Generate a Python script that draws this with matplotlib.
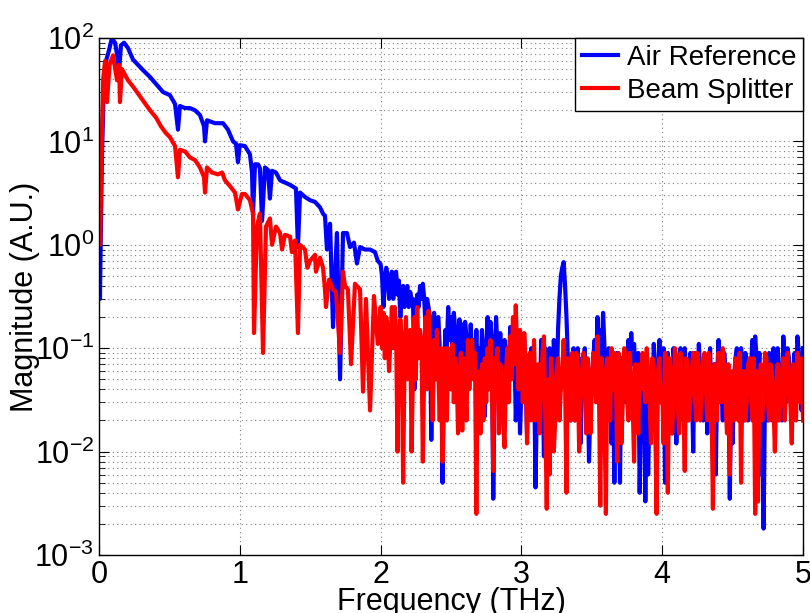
import matplotlib
matplotlib.use("Agg")
import matplotlib.pyplot as plt
import numpy as np

plt.rcParams['font.family'] = ['Liberation Sans', 'DejaVu Sans']
plt.rcParams['mathtext.fontset'] = 'custom'
plt.rcParams['mathtext.rm'] = 'Liberation Sans'

# Low frequency part (0 - 2 THz)
air_f_low = [0.0, 0.007, 0.02, 0.035, 0.05, 0.07, 0.092, 0.114, 0.128, 0.142,
             0.156, 0.178, 0.206, 0.241, 0.277, 0.312, 0.362, 0.412, 0.455, 0.504,
             0.54, 0.561, 0.575, 0.611, 0.646, 0.682, 0.717, 0.746, 0.753, 0.767,
             0.824, 0.881, 0.916, 0.952, 0.973, 0.987, 1.0, 1.037, 1.072, 1.087,
             1.094, 1.108, 1.129, 1.143, 1.158, 1.179, 1.2, 1.214, 1.229, 1.257,
             1.286, 1.321, 1.357, 1.399, 1.413, 1.428, 1.463, 1.499, 1.534, 1.57,
             1.591, 1.605, 1.619, 1.641, 1.662, 1.676, 1.69, 1.712, 1.733, 1.761,
             1.783, 1.811, 1.832, 1.854, 1.889, 1.925, 1.96, 1.98]
air_mag_low = [12, 0.3, 6, 40, 60, 75, 100, 90, 70, 46,
               85, 90, 80, 62, 55, 49, 42, 35, 30, 28,
               23, 13, 22, 21, 21, 20, 18, 14, 10, 16,
               15, 15, 13, 10, 9.5, 6.3, 9.2, 9, 7.5, 5,
               2.0, 6, 6, 5.5, 1.7, 5.6, 5.3, 2.8, 5.2, 5,
               4.2, 4, 3.8, 3.5, 0.95, 3.2, 2.9, 2.7, 2.6, 2.3,
               2.0, 1.9, 0.9, 1.6, 0.16, 0.5, 1.3, 0.05, 1.3, 1.3,
               0.95, 1.05, 0.66, 0.95, 0.9, 0.9, 0.85, 0.7]

bs_f_low = [0.0, 0.008, 0.02, 0.03, 0.043, 0.057, 0.075, 0.1, 0.128, 0.143,
            0.149, 0.163, 0.206, 0.241, 0.277, 0.32, 0.362, 0.405, 0.44, 0.476,
            0.504, 0.54, 0.561, 0.575, 0.611, 0.646, 0.682, 0.717, 0.746, 0.753,
            0.767, 0.803, 0.845, 0.874, 0.895, 0.93, 0.966, 0.987, 1.015, 1.037,
            1.072, 1.094, 1.101, 1.122, 1.143, 1.165, 1.186, 1.214, 1.229, 1.257,
            1.286, 1.3, 1.321, 1.357, 1.37, 1.392, 1.413, 1.428, 1.463, 1.48,
            1.499, 1.534, 1.541, 1.57, 1.591, 1.605, 1.612, 1.634, 1.662, 1.683,
            1.697, 1.712, 1.733, 1.747, 1.768, 1.79, 1.818, 1.854, 1.875, 1.896,
            1.925, 1.953, 1.98]
bs_mag_low = [7, 1.0, 10, 40, 60, 24, 55, 68, 39, 55,
              24, 50, 39, 34, 29, 24, 20, 17, 14, 12,
              11, 9, 4.5, 8.3, 8, 7, 6.6, 5.6, 4.5, 3.2,
              5.6, 5, 4.8, 5, 4.2, 3.7, 3.2, 2.2, 3.1, 3.1,
              2.7, 2.0, 0.14, 1.5, 2.0, 0.09, 1.5, 1.8, 1.0, 1.5,
              1.3, 0.9, 1.25, 1.2, 0.85, 1.1, 0.14, 1.0, 0.9, 0.6,
              0.7, 0.8, 0.55, 0.75, 0.6, 0.37, 0.25, 0.46, 0.37, 0.35,
              0.18, 0.09, 0.55, 0.4, 0.37, 0.07, 0.42, 0.37, 0.038, 0.3,
              0.025, 0.32, 0.11]

# High frequency part (2 - 5 THz): values at 2.00, 2.02, ... (even)
# and at 2.01, 2.03, ... (odd)
air_mag_even = [0.65, 0.25, 0.6, 0.3, 0.55, 0.5, 0.33, 0.2, 0.4, 0.33,
                0.25, 0.3, 0.04, 0.33, 0.4, 0.42, 0.15, 0.25, 0.013, 0.22,
                0.18, 0.1, 0.005, 0.15, 0.25, 0.2, 0.22, 0.06, 0.19, 0.17,
                0.18, 0.09, 0.17, 0.12, 0.15, 0.1, 0.15, 0.022, 0.2, 0.18,
                0.0035, 0.2, 0.08, 0.05, 0.12, 0.03, 0.16, 0.06, 0.02, 0.1,
                0.04, 0.12, 0.015, 0.08, 0.03, 0.0045, 0.06, 0.12, 0.009, 0.05,
                0.1, 0.03, 0.07, 0.15, 0.5, 0.68, 0.2, 0.04, 0.08, 0.02,
                0.1, 0.012, 0.06, 0.025, 0.008, 0.05, 0.12, 0.2, 0.15, 0.22,
                0.04, 0.1, 0.012, 0.005, 0.09, 0.005, 0.06, 0.03, 0.12, 0.14,
                0.11, 0.03, 0.004, 0.07, 0.0033, 0.006, 0.05, 0.11, 0.02, 0.12,
                0.05, 0.005, 0.09, 0.03, 0.1, 0.012, 0.08, 0.04, 0.1, 0.02,
                0.09, 0.01, 0.06, 0.11, 0.03, 0.08, 0.015, 0.1, 0.04, 0.006,
                0.12, 0.05, 0.09, 0.03, 0.0035, 0.012, 0.08, 0.04, 0.1, 0.02,
                0.07, 0.03, 0.12, 0.13, 0.04, 0.006, 0.0018, 0.05, 0.09, 0.02,
                0.07, 0.1, 0.04, 0.13, 0.03, 0.08, 0.02, 0.09, 0.13, 0.05,
                0.1]
air_mag_odd = [0.5, 0.45, 0.5, 0.45, 0.3, 0.55, 0.45, 0.35, 0.25, 0.4,
               0.35, 0.3, 0.2, 0.25, 0.3, 0.3, 0.3, 0.2, 0.1, 0.1,
               0.2, 0.08, 0.05, 0.1, 0.12, 0.1, 0.15, 0.12, 0.06, 0.08,
               0.13, 0.05, 0.07, 0.06, 0.05, 0.06, 0.1, 0.07, 0.05, 0.12,
               0.05, 0.1, 0.14, 0.02, 0.09, 0.05, 0.1, 0.12, 0.05, 0.015,
               0.08, 0.05, 0.05, 0.1, 0.07, 0.03, 0.02, 0.06, 0.1, 0.02,
               0.06, 0.12, 0.03, 0.3, 0.6, 0.4, 0.08, 0.02, 0.1, 0.05,
               0.05, 0.08, 0.1, 0.07, 0.03, 0.08, 0.06, 0.08, 0.07, 0.1,
               0.02, 0.05, 0.06, 0.04, 0.05, 0.08, 0.09, 0.05, 0.06, 0.07,
               0.06, 0.09, 0.03, 0.05, 0.04, 0.03, 0.02, 0.06, 0.05, 0.03,
               0.1, 0.03, 0.05, 0.015, 0.06, 0.04, 0.1, 0.02, 0.06, 0.04,
               0.05, 0.09, 0.03, 0.06, 0.02, 0.05, 0.06, 0.025, 0.07, 0.05,
               0.03, 0.02, 0.06, 0.05, 0.04, 0.05, 0.1, 0.02, 0.05, 0.09,
               0.02, 0.06, 0.05, 0.08, 0.09, 0.03, 0.04, 0.02, 0.05, 0.1,
               0.02, 0.06, 0.02, 0.07, 0.1, 0.04, 0.06, 0.03, 0.09, 0.025]

bs_mag_even = [0.25, 0.22, 0.2, 0.06, 0.25, 0.25, 0.01, 0.19, 0.005, 0.2,
               0.1, 0.01, 0.2, 0.25, 0.15, 0.008, 0.2, 0.23, 0.06, 0.12,
               0.15, 0.02, 0.008, 0.1, 0.1, 0.04, 0.03, 0.06, 0.045, 0.016,
               0.05, 0.12, 0.08, 0.05, 0.0025, 0.04, 0.07, 0.08, 0.1, 0.12,
               0.0065, 0.06, 0.015, 0.05, 0.011, 0.1, 0.13, 0.2, 0.26, 0.04,
               0.1, 0.14, 0.012, 0.09, 0.05, 0.02, 0.07, 0.04, 0.13, 0.0028,
               0.006, 0.05, 0.02, 0.08, 0.04, 0.12, 0.004, 0.05, 0.09, 0.02,
               0.07, 0.03, 0.09, 0.015, 0.05, 0.04, 0.08, 0.13, 0.003, 0.06,
               0.0025, 0.05, 0.1, 0.09, 0.008, 0.06, 0.03, 0.07, 0.02, 0.05,
               0.008, 0.04, 0.07, 0.09, 0.03, 0.06, 0.012, 0.05, 0.0025, 0.08,
               0.04, 0.09, 0.004, 0.06, 0.03, 0.08, 0.015, 0.06, 0.0065, 0.07,
               0.03, 0.09, 0.02, 0.07, 0.04, 0.09, 0.02, 0.06, 0.0028, 0.05,
               0.09, 0.03, 0.07, 0.015, 0.006, 0.06, 0.08, 0.02, 0.005, 0.06,
               0.03, 0.08, 0.02, 0.0025, 0.0033, 0.07, 0.04, 0.08, 0.02, 0.06,
               0.01, 0.07, 0.03, 0.08, 0.04, 0.06, 0.012, 0.05, 0.09, 0.03,
               0.02]
bs_mag_odd = [0.1, 0.08, 0.15, 0.12, 0.1, 0.15, 0.1, 0.12, 0.08, 0.05,
              0.15, 0.06, 0.05, 0.08, 0.12, 0.07, 0.04, 0.12, 0.02, 0.05,
              0.06, 0.1, 0.05, 0.02, 0.07, 0.11, 0.08, 0.015, 0.09, 0.08,
              0.02, 0.04, 0.12, 0.09, 0.06, 0.015, 0.02, 0.03, 0.04, 0.05,
              0.08, 0.1, 0.07, 0.02, 0.06, 0.03, 0.05, 0.07, 0.09, 0.15,
              0.03, 0.06, 0.08, 0.02, 0.12, 0.05, 0.015, 0.09, 0.02, 0.05,
              0.08, 0.01, 0.06, 0.02, 0.06, 0.05, 0.08, 0.02, 0.05, 0.09,
              0.01, 0.06, 0.04, 0.08, 0.015, 0.09, 0.03, 0.05, 0.08, 0.02,
              0.08, 0.02, 0.04, 0.06, 0.09, 0.012, 0.1, 0.035, 0.09, 0.03,
              0.07, 0.015, 0.04, 0.05, 0.1, 0.03, 0.08, 0.02, 0.06, 0.03,
              0.012, 0.05, 0.08, 0.015, 0.1, 0.03, 0.09, 0.03, 0.08, 0.02,
              0.06, 0.04, 0.09, 0.02, 0.07, 0.04, 0.09, 0.03, 0.07, 0.02,
              0.06, 0.1, 0.03, 0.07, 0.04, 0.02, 0.05, 0.09, 0.06, 0.02,
              0.07, 0.04, 0.08, 0.06, 0.04, 0.02, 0.09, 0.03, 0.07, 0.03,
              0.04, 0.02, 0.06, 0.02, 0.09, 0.03, 0.07, 0.02, 0.06, 0.08]

labels = ['Air Reference', 'Beam Splitter']
x_ticks = [0, 1, 2, 3, 4, 5]

# Build the 0.01 THz grid for the high frequency part
hf_freq = np.round(np.arange(2.0, 5.0 + 1e-9, 0.01), 2)
air_mag_high = np.empty(len(hf_freq))
air_mag_high[0::2] = air_mag_even
air_mag_high[1::2] = air_mag_odd
bs_mag_high = np.empty(len(hf_freq))
bs_mag_high[0::2] = bs_mag_even
bs_mag_high[1::2] = bs_mag_odd

# Join both parts of each spectrum
air_freq = np.concatenate([air_f_low, hf_freq])
air_mag = np.concatenate([air_mag_low, air_mag_high])
bs_freq = np.concatenate([bs_f_low, hf_freq])
bs_mag = np.concatenate([bs_mag_low, bs_mag_high])

fig = plt.figure(figsize=(8.1, 6.13), dpi=100)
ax = fig.add_axes([0.1222, 0.0946, 0.8692, 0.8434])

ax.plot(air_freq, air_mag, color='#0000ff', linewidth=3.0, label=labels[0])
ax.plot(bs_freq, bs_mag, color='#ff0000', linewidth=3.0, label=labels[1])

ax.set_yscale('log')
ax.set_xlim(0, 5)
ax.set_ylim(1e-3, 1e2)
ax.set_xticks(x_ticks)
ax.set_xticklabels([str(t) for t in x_ticks])

# Matlab style grid and ticks
ax.grid(True, which='major', linestyle=(0, (1, 3)), color='0.5', linewidth=0.8)
ax.grid(True, which='minor', axis='y', linestyle=(0, (1, 3)), color='0.5', linewidth=0.8)
ax.tick_params(which='both', direction='in', top=True, right=True, labelsize=22)
ax.tick_params(which='major', length=7)
ax.tick_params(which='minor', length=4)
for spine in ax.spines.values():
    spine.set_linewidth(1.0)

ax.set_xlabel('Frequency (THz)', fontsize=22, labelpad=-2)
ax.set_ylabel('Magnitude (A.U.)', fontsize=22, labelpad=-4)

leg = ax.legend(loc='upper right', borderaxespad=0, fancybox=False, edgecolor='k',
                framealpha=1, fontsize=20, handlelength=1.3, handletextpad=0.3,
                borderpad=0.25, labelspacing=0.25)
leg.get_frame().set_linewidth(1.0)

fig.savefig('out.png', dpi=100)
